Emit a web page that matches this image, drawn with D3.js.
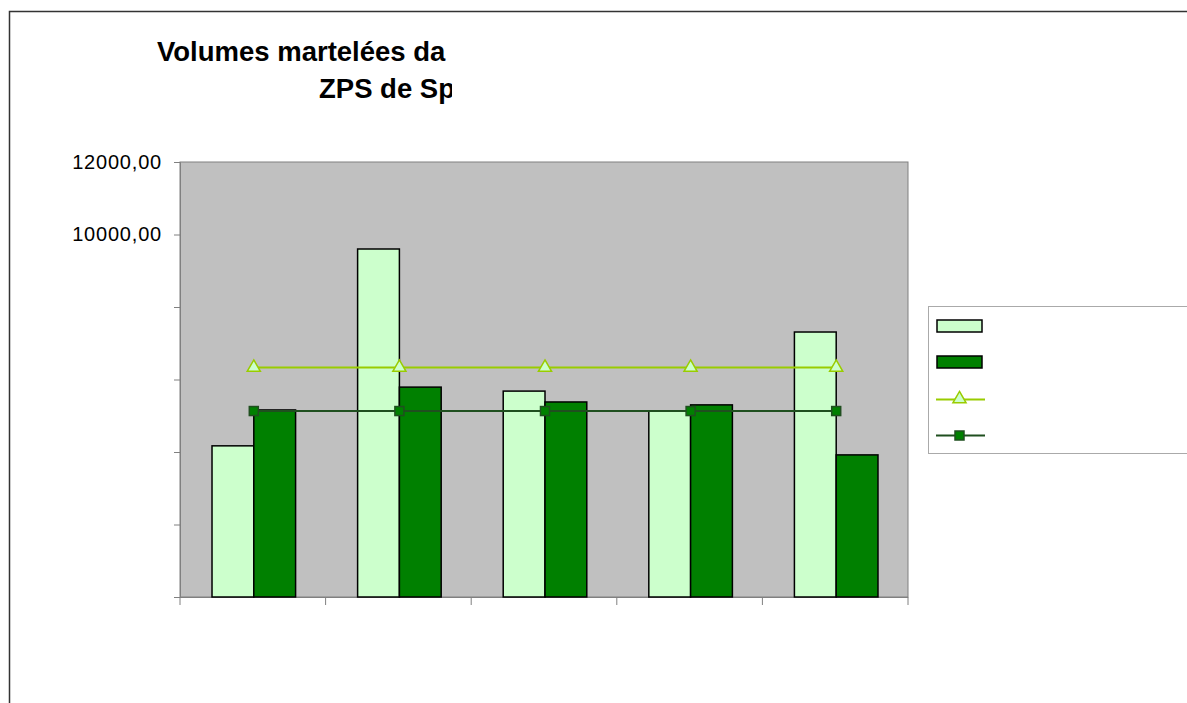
<!DOCTYPE html>
<html>
<head>
<meta charset="utf-8">
<script src="https://cdn.jsdelivr.net/npm/d3@7"></script>
<style>
  body { margin: 0; background: #fff; }
  svg { display: block; font-family: "Liberation Sans", Arial, sans-serif; }
</style>
</head>
<body>
<div id="chart"></div>
<script>
// values
var categories = ["A", "B", "C", "D", "E"];
var seriesLight = [4170, 9600, 5680, 5130, 7310];
var seriesDark = [5160, 5790, 5380, 5300, 3920];
var lineTriangle = [6330, 6330, 6330, 6330, 6330];
var lineSquare = [5130, 5130, 5130, 5130, 5130];
var yTicks = [0, 2000, 4000, 6000, 8000, 10000, 12000];
var yTickLabels = ["", "", "", "", "", "10000,00", "12000,00"];
var titleLines = ["Volumes martelées da", "ZPS de Sp"];

var W = 1187, H = 703;
var plot = {left: 180, top: 162, right: 908, bottom: 597};

var svg = d3.select("#chart").append("svg")
    .attr("width", W)
    .attr("height", H);

// outer chart frame (extends past the window)
svg.append("rect")
    .attr("x", 9.5).attr("y", 11.5)
    .attr("width", W + 20).attr("height", H + 20)
    .attr("fill", "#fff")
    .attr("stroke", "#333")
    .attr("stroke-width", 1.5);

// title, clipped on the right as in the original
svg.append("clipPath").attr("id", "titleclip")
  .append("rect").attr("x", 0).attr("y", 0).attr("width", 452).attr("height", 140);

var title = svg.append("g").attr("clip-path", "url(#titleclip)");
title.append("text")
    .attr("x", 157).attr("y", 61)
    .attr("font-size", 27.5).attr("font-weight", "bold")
    .text(titleLines[0]);
title.append("text")
    .attr("x", 319).attr("y", 98)
    .attr("font-size", 27.5).attr("font-weight", "bold")
    .text(titleLines[1]);

var x = d3.scaleBand()
    .domain(categories)
    .range([plot.left, plot.right])
    .paddingInner(0).paddingOuter(0);

var y = d3.scaleLinear()
    .domain([0, 12000])
    .range([plot.bottom, plot.top]);

var barW = x.bandwidth() * 0.287;
var cx = function(d, i) { return x(categories[i]) + x.bandwidth() / 2 + 1; };

// plot area
svg.append("rect")
    .attr("x", plot.left).attr("y", plot.top)
    .attr("width", plot.right - plot.left)
    .attr("height", plot.bottom - plot.top)
    .attr("fill", "#c0c0c0")
    .attr("stroke", "#808080")
    .attr("stroke-width", 1);

// y axis
var yAxis = d3.axisLeft(y)
    .tickValues(yTicks)
    .tickSize(6)
    .tickPadding(12)
    .tickFormat(function(d, i) { return yTickLabels[i]; });

var gy = svg.append("g")
    .attr("transform", "translate(" + plot.left + ",0)")
    .call(yAxis);
gy.select(".domain").attr("stroke", "#808080");
gy.selectAll(".tick line").attr("stroke", "#808080");
gy.selectAll(".tick text")
    .attr("font-size", 20)
    .attr("letter-spacing", 0.8)
    .attr("fill", "#000")
    .attr("dy", "0.3em")
    .attr("font-family", "Liberation Sans, Arial, sans-serif");

// x axis: ticks at category boundaries
var xBounds = categories.map(function(c) { return x(c); }).concat([plot.right]);
var gx = svg.append("g");
gx.append("line")
    .attr("x1", plot.left - 6).attr("x2", plot.right)
    .attr("y1", plot.bottom + 0.5).attr("y2", plot.bottom + 0.5)
    .attr("stroke", "#808080");
gx.selectAll("line.tick").data(xBounds).enter().append("line")
    .attr("class", "tick")
    .attr("x1", function(d) { return d; }).attr("x2", function(d) { return d; })
    .attr("y1", plot.bottom).attr("y2", plot.bottom + 8)
    .attr("stroke", "#808080");

// bars
var bars = svg.append("g");
bars.selectAll("rect.light").data(seriesLight).enter().append("rect")
    .attr("class", "light")
    .attr("x", function(d, i) { return cx(d, i) - barW; })
    .attr("y", function(d) { return y(d); })
    .attr("width", barW)
    .attr("height", function(d) { return y(0) - y(d); })
    .attr("fill", "#ccffcc")
    .attr("stroke", "#000")
    .attr("stroke-width", 1.5);

bars.selectAll("rect.dark").data(seriesDark).enter().append("rect")
    .attr("class", "dark")
    .attr("x", function(d, i) { return cx(d, i); })
    .attr("y", function(d) { return y(d); })
    .attr("width", barW)
    .attr("height", function(d) { return y(0) - y(d); })
    .attr("fill", "#008000")
    .attr("stroke", "#000")
    .attr("stroke-width", 1.5);

// line with triangles
var line = d3.line().x(cx).y(function(d) { return y(d); });
svg.append("path")
    .datum(lineTriangle)
    .attr("d", line)
    .attr("fill", "none")
    .attr("stroke", "#99cc00")
    .attr("stroke-width", 2);

var tri = d3.symbol().type(d3.symbolTriangle).size(75);
svg.selectAll("path.tri").data(lineTriangle).enter().append("path")
    .attr("class", "tri")
    .attr("d", tri)
    .attr("transform", function(d, i) { return "translate(" + cx(d, i) + "," + y(d) + ")"; })
    .attr("fill", "#ccffcc")
    .attr("stroke", "#99cc00")
    .attr("stroke-width", 1.5);

// line with squares
svg.append("path")
    .datum(lineSquare)
    .attr("d", line)
    .attr("fill", "none")
    .attr("stroke", "#1f4f1f")
    .attr("stroke-width", 2);

svg.selectAll("rect.sq").data(lineSquare).enter().append("rect")
    .attr("class", "sq")
    .attr("x", function(d, i) { return cx(d, i) - 4.5; })
    .attr("y", function(d) { return y(d) - 4.5; })
    .attr("width", 9).attr("height", 9)
    .attr("fill", "#008000")
    .attr("stroke", "#1f4f1f")
    .attr("stroke-width", 1.5);

// legend (no labels visible, extends past the window)
var lg = svg.append("g");
lg.append("rect")
    .attr("x", 928.5).attr("y", 306.5)
    .attr("width", 300).attr("height", 147)
    .attr("fill", "#fff")
    .attr("stroke", "#aaa");
lg.append("rect")
    .attr("x", 937).attr("y", 320).attr("width", 45).attr("height", 12)
    .attr("fill", "#ccffcc").attr("stroke", "#000").attr("stroke-width", 1.5);
lg.append("rect")
    .attr("x", 937).attr("y", 356).attr("width", 45).attr("height", 12)
    .attr("fill", "#008000").attr("stroke", "#000").attr("stroke-width", 1.5);
lg.append("line")
    .attr("x1", 936).attr("x2", 985).attr("y1", 399.5).attr("y2", 399.5)
    .attr("stroke", "#99cc00").attr("stroke-width", 2);
lg.append("path")
    .attr("d", tri)
    .attr("transform", "translate(959.5,399)")
    .attr("fill", "#ccffcc").attr("stroke", "#99cc00").attr("stroke-width", 1.5);
lg.append("line")
    .attr("x1", 936).attr("x2", 985).attr("y1", 435.5).attr("y2", 435.5)
    .attr("stroke", "#1f4f1f").attr("stroke-width", 2);
lg.append("rect")
    .attr("x", 955).attr("y", 431).attr("width", 9).attr("height", 9)
    .attr("fill", "#008000").attr("stroke", "#1f4f1f").attr("stroke-width", 1.5);
</script>
</body>
</html>
